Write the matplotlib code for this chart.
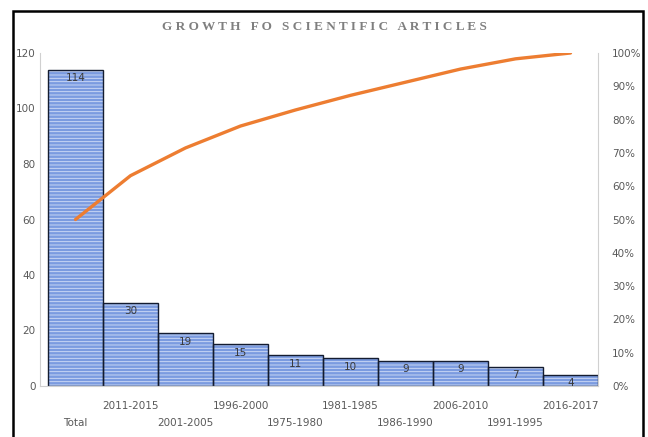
import numpy as np
import matplotlib.pyplot as plt
from matplotlib.patches import Rectangle

periods = ['Total', '2011-2015', '2001-2005', '1996-2000', '1975-1980',
           '1981-1985', '1986-1990', '2006-2010', '1991-1995', '2016-2017']
counts = [114, 30, 19, 15, 11, 10, 9, 9, 7, 4]

cum_pct = np.cumsum(counts) / np.sum(counts) * 100

plt.rcParams['font.family'] = ['Liberation Sans Narrow', 'DejaVu Sans']
plt.rcParams['hatch.linewidth'] = 0.6

fig = plt.figure(figsize=(6.48, 4.37), dpi=100)
ax = fig.add_axes([40/648, 1-386/437, 558/648, 333/437])
x = np.arange(len(counts))

# hatched fill, then dark outline on top
ax.bar(x, counts, width=1.0, color='#7b9be0', edgecolor='#d3def7',
       hatch='-----', linewidth=0)
ax.bar(x, counts, width=1.0, fill=False, edgecolor='#141c30', linewidth=1.0)

for xi, v in zip(x, counts):
    ax.text(xi, v - 1.2, str(v), ha='center', va='top', fontsize=7.5, color='#3a3a3a')

ax.set_xlim(-0.5 - 8/55, 9.5)
ax.set_ylim(0, 120)
ax.set_yticks(range(0, 121, 20))
ax.set_xticks(x)
ax.set_xticklabels([('\n' + p) if i % 2 == 0 else p for i, p in enumerate(periods)],
                   fontsize=7.5, color='#595959', linespacing=1.9)
ax.tick_params(axis='both', length=0, labelsize=7.5, labelcolor='#595959')
ax.tick_params(axis='x', pad=11)
ax.tick_params(axis='y', pad=3)
for s in ['top', 'right']:
    ax.spines[s].set_visible(False)
ax.spines['left'].set_color('#d0d0d0')
ax.spines['bottom'].set_color('#d0d0d0')

ax2 = ax.twinx()
ax2.plot(x, cum_pct, color='#ed7d31', linewidth=2.4, solid_capstyle='round')
ax2.set_ylim(0, 100)
ax2.set_yticks(range(0, 101, 10))
ax2.set_yticklabels([f'{t}%' for t in range(0, 101, 10)])
ax2.tick_params(axis='y', length=0, labelsize=7.5, labelcolor='#595959', pad=10)
for s in ['top', 'left', 'bottom']:
    ax2.spines[s].set_visible(False)
ax2.spines['right'].set_color('#d0d0d0')

fig.text(0.5, 1-27/437, 'G R O W T H   F O   S C I E N T I F I C   A R T I C L E S',
         ha='center', va='center', fontsize=9.5, fontweight='bold',
         color='#7f7f7f', family=['Liberation Serif', 'DejaVu Serif'])

fig.patches.append(Rectangle((13/648, -0.05), 630/648, 1.05 - 11/437,
                             transform=fig.transFigure, fill=False,
                             edgecolor='black', linewidth=1.8))

fig.savefig('out.png', dpi=100)
plt.close()
